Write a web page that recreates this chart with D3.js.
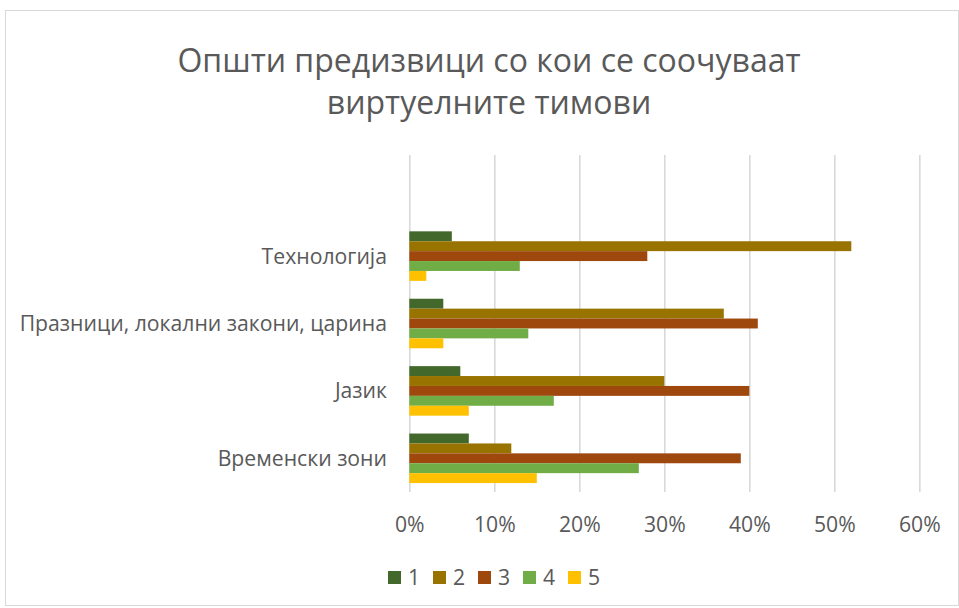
<!DOCTYPE html>
<html>
<head>
<meta charset="utf-8">
<script src="https://cdn.jsdelivr.net/npm/d3@7"></script>
<style>
  html, body { margin: 0; padding: 0; background: #fff; }
  svg { display: block; font-family: "Open Sans", "Noto Sans", sans-serif; }
</style>
</head>
<body>
<svg id="chart" width="959" height="608"></svg>
<script>
// Categories, top to bottom as shown on the chart
const categories = ["Технологија", "Празници, локални закони, царина", "Јазик", "Временски зони"];
const seriesNames = ["1", "2", "3", "4", "5"];
const seriesColors = ["#43682B", "#997300", "#9E480E", "#70AD47", "#FFC000"];

// Share of answers per rating (1..5), one value per category above
const s1 = [0.05, 0.04, 0.06, 0.07];
const s2 = [0.52, 0.37, 0.30, 0.12];
const s3 = [0.28, 0.41, 0.40, 0.39];
const s4 = [0.13, 0.14, 0.17, 0.27];
const s5 = [0.02, 0.04, 0.07, 0.15];
const seriesValues = [s1, s2, s3, s4, s5];

const xTicks = [0, 0.1, 0.2, 0.3, 0.4, 0.5, 0.6];
const titleLines = ["Општи предизвици со кои се соочуваат", "виртуелните тимови"];

const svg = d3.select("#chart");
const textColor = "#595959";
const labelSize = "21.2px";

// Outer chart frame
svg.append("rect")
  .attr("x", 5.5).attr("y", 10.5)
  .attr("width", 953).attr("height", 595)
  .attr("fill", "#fff").attr("stroke", "#D9D9D9").attr("stroke-width", 1);

// Plot area
const plot = { left: 409.3, right: 919.3, top: 155, bottom: 492 };
const slot = (plot.bottom - plot.top) / 5;

const x = d3.scaleLinear().domain([0, 0.6]).range([plot.left, plot.right]);
const y = d3.scaleBand()
  .domain(categories)
  .range([plot.top + slot, plot.bottom])
  .paddingInner(0.265)
  .paddingOuter(0.1325);
const yInner = d3.scaleBand().domain(seriesNames).range([0, y.bandwidth()]);

// Vertical gridlines
svg.append("g")
  .attr("transform", `translate(0,${plot.bottom})`)
  .call(d3.axisBottom(x).tickValues(xTicks).tickSize(-(plot.bottom - plot.top)).tickFormat(""))
  .call(g => g.select(".domain").remove())
  .call(g => g.selectAll("line").attr("stroke", "#D9D9D9").attr("stroke-width", 1.6));

// Bars
const rows = [];
categories.forEach((c, i) => {
  seriesNames.forEach((s, j) => rows.push({ cat: c, series: s, value: seriesValues[j][i], color: seriesColors[j] }));
});
svg.append("g").selectAll("rect")
  .data(rows)
  .join("rect")
  .attr("x", x(0))
  .attr("y", d => y(d.cat) + yInner(d.series))
  .attr("width", d => x(d.value) - x(0))
  .attr("height", yInner.bandwidth())
  .attr("fill", d => d.color);

// X axis labels
svg.append("g")
  .attr("transform", `translate(0,${plot.bottom})`)
  .call(d3.axisBottom(x).tickValues(xTicks).tickSize(0).tickPadding(0).tickFormat(d3.format(".0%")))
  .call(g => g.select(".domain").remove())
  .call(g => g.selectAll("text")
    .attr("y", 39.5).attr("dy", 0)
    .attr("fill", textColor)
    .style("font-size", labelSize)
    .style("font-family", "'Open Sans', sans-serif"));

// Category labels
svg.append("g")
  .attr("transform", "translate(387,0)")
  .call(d3.axisLeft(y).tickSize(0).tickPadding(0))
  .call(g => g.select(".domain").remove())
  .call(g => g.selectAll("text")
    .attr("fill", textColor)
    .attr("dy", "0.35em")
    .style("font-size", labelSize)
    .style("font-family", "'Open Sans', sans-serif"));

// Title
svg.append("g").selectAll("text")
  .data(titleLines)
  .join("text")
  .attr("x", 489)
  .attr("y", (d, i) => 72 + i * 42)
  .attr("text-anchor", "middle")
  .attr("fill", textColor)
  .style("font-size", "32px")
  .text(d => d);

// Legend
const legend = svg.append("g");
const legendX = d3.scalePoint().domain(seriesNames).range([388, 568]);
const item = legend.selectAll("g")
  .data(seriesNames.map((s, i) => ({ s, color: seriesColors[i] })))
  .join("g")
  .attr("transform", d => `translate(${legendX(d.s)},571)`);
item.append("rect").attr("width", 13).attr("height", 13).attr("fill", d => d.color);
item.append("text")
  .attr("x", 20).attr("y", 14)
  .attr("fill", textColor)
  .style("font-size", labelSize)
  .text(d => d.s);
</script>
</body>
</html>
